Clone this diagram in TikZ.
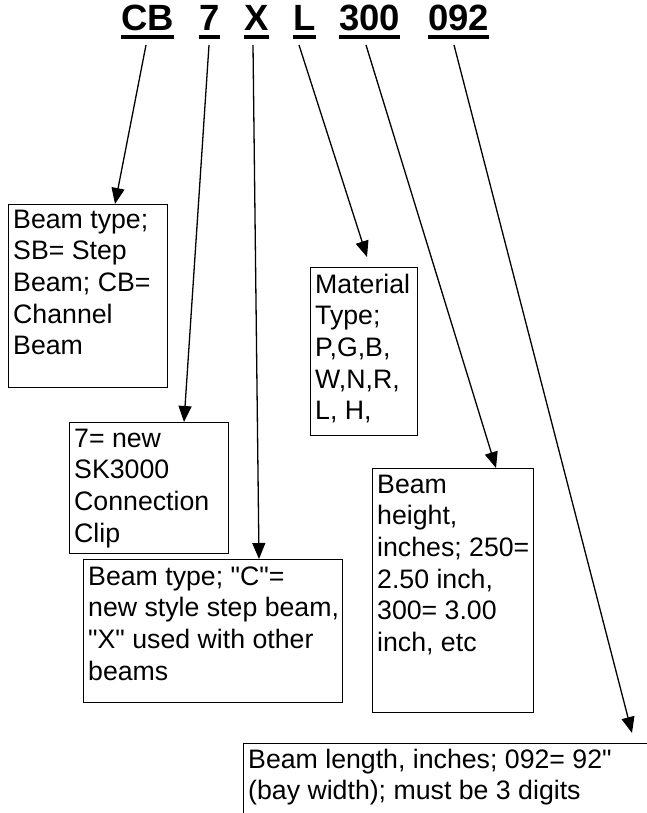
\documentclass[tikz,border=0pt]{standalone}
\usepackage{fontspec}
\setmainfont{Liberation Sans}
\newfontfamily\lsans{Liberation Sans}
\usetikzlibrary{arrows.meta,calc}
\begin{document}
\begin{tikzpicture}[x=1pt,y=-1pt,
  box/.style={draw, line width=1.3pt, rectangle, inner sep=0pt, anchor=north west},
  txt/.style={anchor=north west, inner sep=0pt, align=left, font=\lsans\fontsize{26.7}{31.6}\selectfont},
  code/.style={anchor=base west, inner sep=0pt, font=\lsans\fontsize{36.5}{40}\selectfont\bfseries},
  uline/.style={line width=4pt},
  ptr/.style={line width=1.3pt, -{Triangle[length=16pt,width=13pt]}}]
\useasboundingbox (0,0) rectangle (647,813);
% code letters
\node[code] (cCB) at (121,31) {CB};
\node[code] (c7) at (199,31) {7};
\node[code] (cX) at (244,31) {X};
\node[code] (cL) at (293,31) {L};
\node[code] (c300) at (339,31) {300};
\node[code] (c092) at (428,31) {092};
\foreach \n in {cCB,c7,cX,cL,c300,c092}
  \draw[uline] ([yshift=-6pt]\n.base west) -- ([yshift=-6pt]\n.base east);
% arrow starts
\coordinate (sCB) at (146,45);
\coordinate (s7) at (209,45);
\coordinate (sX) at (253,45);
\coordinate (sL) at (299,45);
\coordinate (s300) at (366,45);
\coordinate (s092) at (454,45);
% boxes
\node[box, minimum width=159pt, minimum height=183pt] (b1) at (8,204) {};
\node[box, minimum width=159pt, minimum height=131pt] (b2) at (69,422) {};
\node[box, minimum width=259pt, minimum height=143pt] (b3) at (83,559) {};
\node[box, minimum width=107pt, minimum height=168pt] (b4) at (310,267) {};
\node[box, minimum width=161pt, minimum height=244pt] (b5) at (372,468) {};
\node[box, minimum width=430pt, minimum height=100pt] (b6) at (243,743) {};
% texts
\node[txt] (t1) at ($(b1.north west)+(5,2)$) {\strut Beam type;\\SB= Step\\Beam; CB=\\Channel\\Beam};
\node[txt] (t2) at ($(b2.north west)+(5,3)$) {\strut 7= new\\SK3000\\Connection\\Clip};
\node[txt] (t3) at ($(b3.north west)+(5,4)$) {\strut Beam type; "C"=\\new style step beam,\\"X" used with other\\beams};
\node[txt] (t4) at ($(b4.north west)+(5,4)$) {\strut Material\\Type;\\P,G,B,\\W,N,R,\\L, H,};
\node[txt] (t5) at ($(b5.north west)+(5,3)$) {\strut Beam\\height,\\inches; 250=\\2.50 inch,\\300= 3.00\\inch, etc};
\node[txt] (t6) at ($(b6.north west)+(5,3)$) {\strut Beam length, inches; 092= 92"\\(bay width); must be 3 digits};
% arrows
\draw[ptr] (sCB) -- ($(b1.north west)+(107,0)$);
\draw[ptr] (s7) -- ($(b2.north west)+(115,0)$);
\draw[ptr] (sX) -- ($(b3.north west)+(176,0)$);
\draw[ptr] (sL) -- ($(b4.north west)+(57,-10)$);
\draw[ptr] (s300) -- ($(b5.north west)+(124,0)$);
\draw[ptr] (s092) -- ($(b6.north west)+(389,-10)$);
\end{tikzpicture}
\end{document}
